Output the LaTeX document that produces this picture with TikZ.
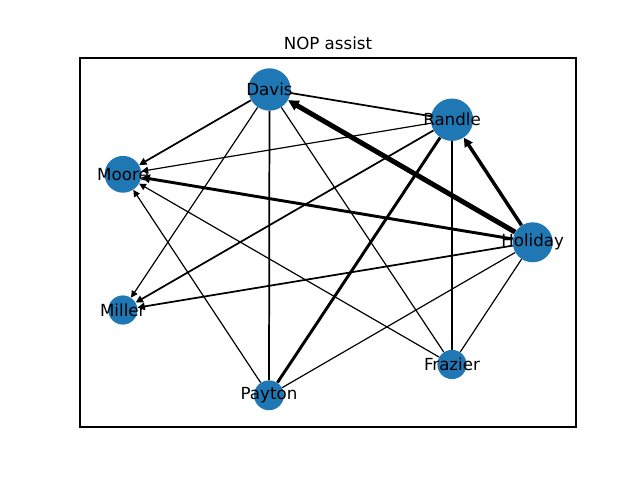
\documentclass[tikz,border=0pt]{standalone}
\usepackage{fontspec}
\setmainfont{DejaVu Sans}
\usetikzlibrary{arrows.meta}
\usetikzlibrary{backgrounds}
\definecolor{nodeblue}{HTML}{1F77B4}
\tikzset{x=0.72pt, y=-0.72pt,
  every node/.style={align=center, font=\fontsize{12pt}{14pt}\selectfont},
  player/.style={ % One circle per player
    circle, fill=nodeblue, draw=none, inner sep=0pt},
  pass/.style={ % Sets the properties for each assist
    draw, line width=0.85pt},
  hit/.style={-{Triangle[length=4pt 1, width=4pt 1]}},
  light/.style={line width=0.85pt},
  mid/.style={line width=1.25pt},
  heavy/.style={line width=2.1pt},
  heavier/.style={line width=2.5pt},
  heaviest/.style={line width=3.6pt}}

\begin{document}
\begin{tikzpicture}
  \useasboundingbox (0,0) rectangle (640,480);

  \node (title) at (328,43) {NOP assist};
  \draw[line width=0.8pt] (80,58) rectangle (576,427);

  \node [player, minimum size=30.5pt, label=center:Davis]   (davis)   at (269.5,89.5) {};
  \node [player, minimum size=30.5pt, label=center:Randle]  (randle)  at (452,119.7) {};
  \node [player, minimum size=28.8pt, label=center:Holiday] (holiday) at (532.7,242.3) {};
  \node [player, minimum size=21pt,   label=center:Frazier] (frazier) at (452,364.5) {};
  \node [player, minimum size=21.5pt, label=center:Payton]  (payton)  at (269,395.3) {};
  \node [player, minimum size=21pt,   label=center:Miller]  (miller)  at (122.8,310) {};
  \node [player, minimum size=26.5pt, label=center:Moore]   (moore)   at (123,174.3) {};

  \begin{pgfonlayer}{background}
    % assists with a visible head
    \draw[pass, hit, heaviest] (holiday) -- (davis);
    \draw[pass, hit, heavier]  (holiday) -- (randle);
    \draw[pass, hit, heavy]    (holiday) -- (moore);
    \draw[pass, hit, mid]      (holiday) -- (miller);
    \draw[pass, hit, mid]      (davis) -- (moore);
    \draw[pass, hit, light]    (randle) -- (moore);
    \draw[pass, hit, light]    (payton) -- (moore);
    \draw[pass, hit, light]    (frazier) -- (moore);
    \draw[pass, hit, light]    (davis) -- (miller);
    \draw[pass, hit, mid]      (randle) -- (miller);
    % the rest
    \draw[pass, heavy] (payton) -- (randle);
    \draw[pass, mid]   (davis) -- (randle);
    \draw[pass, mid]   (davis) -- (payton);
    \draw[pass, light] (frazier) -- (davis);
    \draw[pass, light] (frazier) -- (randle);
    \draw[pass, light] (payton) -- (holiday);
    \draw[pass, light] (frazier) -- (holiday);
  \end{pgfonlayer}
\end{tikzpicture}
\end{document}
